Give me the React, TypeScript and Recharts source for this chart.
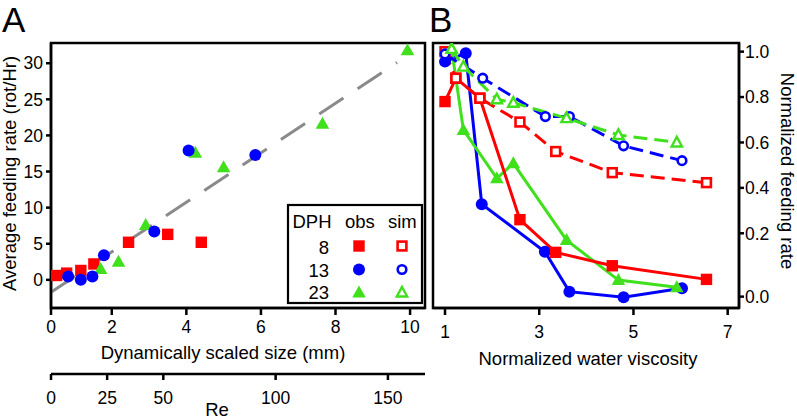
import React from 'react';
import { ComposedChart, Scatter, Line, XAxis, YAxis, ReferenceArea, ReferenceLine, Label } from 'recharts';

const FONT = '"Liberation Sans", Arial, Helvetica, sans-serif';
const RED = '#ff0000';
const BLUE = '#0000ff';
const GREEN = '#40e01c';
const GREY = '#8a8a8a';

// ---------- Panel A ----------
const sizeTicks = [0.37, 2, 4, 6, 8, 10];
const rateTicks = [0, 5, 10, 15, 20, 25, 30];
const reTicks = [0, 25, 50, 100, 150];

const size8 = [0.52, 0.79, 1.17, 1.52, 2.45, 3.5, 4.4];
const rate8 = [0.6, 0.93, 1.3, 2.2, 5.2, 6.3, 5.2];
const size13 = [0.83, 1.17, 1.48, 1.79, 3.14, 4.06, 5.85];
const rate13 = [0.46, 0.0, 0.46, 3.4, 6.7, 17.9, 17.3];
const size23 = [1.7, 2.18, 2.91, 4.24, 5.0, 7.65, 9.93];
const rate23 = [1.5, 2.5, 7.6, 17.6, 15.6, 21.6, 31.8];
const fitSize = [0.37, 9.65];
const fitRate = [-1.71, 30.1];

// ---------- Panel B ----------
const viscTicks = [1, 3, 5, 7];
const normTicks = [-0.079, 0.2, 0.4, 0.6, 0.8, 1.0];

const visc8 = [1.0, 1.23, 1.74, 2.59, 3.35, 4.55, 6.55];
const obs8 = [0.78, 0.883, 0.795, 0.26, 0.116, 0.057, -0.003];
const sim8 = [1.0, 0.883, 0.795, 0.69, 0.56, 0.467, 0.423];
const visc13obs = [1.0, 1.44, 1.78, 3.12, 3.64, 4.79, 6.03];
const obs13 = [0.956, 0.993, 0.328, 0.119, -0.057, -0.082, -0.042];
const visc13sim = [1.0, 1.8, 3.13, 3.64, 4.79, 6.03];
const sim13 = [0.99, 0.883, 0.714, 0.714, 0.585, 0.52];
const visc23 = [1.14, 1.39, 2.1, 2.45, 3.58, 4.68, 5.92];
const obs23 = [1.012, 0.655, 0.442, 0.508, 0.17, -0.006, -0.038];
const sim23 = [1.012, 0.934, 0.79, 0.775, 0.707, 0.633, 0.6];

const zip = (xs: number[], ys: number[]) => xs.map((x, i) => ({ x, y: ys[i] }));

type Kind = 'square' | 'circle' | 'triangle';

function Marker({ kind, color, cx, cy, open }: { kind: Kind; color: string; cx: number; cy: number; open?: boolean }) {
  if (cx == null || cy == null || isNaN(cx) || isNaN(cy)) return null;
  if (!open) {
    if (kind === 'square') return <rect x={cx - 5.7} y={cy - 5.7} width={11.4} height={11.4} fill={color} />;
    if (kind === 'circle') return <circle cx={cx} cy={cy} r={6} fill={color} />;
    return <polygon points={`${cx},${cy - 7} ${cx - 6.8},${cy + 5} ${cx + 6.8},${cy + 5}`} fill={color} />;
  }
  const sw = 2.6;
  if (kind === 'square') return <rect x={cx - 4.4} y={cy - 4.4} width={8.8} height={8.8} fill="#fff" stroke={color} strokeWidth={sw} />;
  if (kind === 'circle') return <circle cx={cx} cy={cy} r={4.3} fill="#fff" stroke={color} strokeWidth={sw} />;
  return <polygon points={`${cx},${cy - 5.6} ${cx - 5.2},${cy + 4} ${cx + 5.2},${cy + 4}`} fill="#fff" stroke={color} strokeWidth={2.4} />;
}

const scatterShape = (kind: Kind, color: string) => (p: any) => <Marker kind={kind} color={color} cx={p.cx} cy={p.cy} />;
const lineDot = (kind: Kind, color: string, open: boolean) => (p: any) => (
  <g key={`d-${kind}-${open ? 'o' : 'f'}-${p.index}`}>
    <Marker kind={kind} color={color} cx={p.cx} cy={p.cy} open={open} />
  </g>
);

const axisStyle = { stroke: '#000', strokeWidth: 2.5 };
const tickStyle = { fill: '#000', fontSize: 17.5, fontFamily: FONT };

function Title({ x, y, text, angle }: { x: number; y: number; text: string; angle?: number }) {
  return (
    <text
      x={x}
      y={y}
      textAnchor="middle"
      fontSize={18.5}
      fontFamily={FONT}
      fill="#000"
      transform={angle ? `rotate(${angle} ${x} ${y})` : undefined}
    >
      {text}
    </text>
  );
}

function PanelA() {
  return (
    <ComposedChart width={430} height={420} margin={{ top: 43, right: 5, bottom: 0, left: 0 }}>
      <XAxis
        xAxisId="a"
        type="number"
        dataKey="x"
        domain={[0.37, 10.4]}
        allowDataOverflow
        ticks={sizeTicks}
        interval={0}
        tickFormatter={(v: number) => (v === sizeTicks[0] ? '0' : String(v))}
        height={66}
        tickSize={7}
        tickMargin={6}
        axisLine={axisStyle}
        tickLine={axisStyle}
        tick={tickStyle}
      >
        <Label content={() => <Title x={223} y={359} text="Dynamically scaled size (mm)" />} />
      </XAxis>
      <XAxis
        xAxisId="z"
        type="number"
        dataKey="re"
        domain={[0, 166.5]}
        allowDataOverflow
        ticks={reTicks}
        interval={0}
        height={46}
        tickSize={6}
        tickMargin={12}
        axisLine={axisStyle}
        tickLine={axisStyle}
        tick={tickStyle}
      >
        <Label content={() => <Title x={217} y={416} text="Re" />} />
      </XAxis>
      <YAxis
        yAxisId="r"
        type="number"
        dataKey="y"
        domain={[-3.9, 32.8]}
        allowDataOverflow
        ticks={rateTicks}
        interval={0}
        width={51}
        tickSize={5}
        tickMargin={3}
        axisLine={axisStyle}
        tickLine={axisStyle}
        tick={tickStyle}
      >
        <Label content={() => <Title x={16} y={173.5} angle={-90} text="Average feeding rate (rot/Hr)" />} />
      </YAxis>
      <ReferenceArea xAxisId="a" yAxisId="r" x1={0.37} x2={10.4} y1={-3.9} y2={32.8} fill="none" fillOpacity={0} stroke="#000" strokeWidth={2.5} ifOverflow="visible" />
      <ReferenceLine
        xAxisId="a"
        yAxisId="r"
        segment={[{ x: fitSize[0], y: fitRate[0] }, { x: fitSize[1], y: fitRate[1] }]}
        stroke={GREY}
        strokeWidth={3}
        strokeDasharray="29 17"
        ifOverflow="visible"
      />
      <Scatter name="8 obs" xAxisId="a" yAxisId="r" data={zip(size8, rate8)} shape={scatterShape('square', RED)} isAnimationActive={false} />
      <Scatter name="23 obs" xAxisId="a" yAxisId="r" data={zip(size23, rate23)} shape={scatterShape('triangle', GREEN)} isAnimationActive={false} />
      <Scatter name="13 obs" xAxisId="a" yAxisId="r" data={zip(size13, rate13)} shape={scatterShape('circle', BLUE)} isAnimationActive={false} />
    </ComposedChart>
  );
}

function PanelB() {
  const solid = { strokeWidth: 3, isAnimationActive: false, dataKey: 'y', activeDot: false as any };
  return (
    <ComposedChart width={367} height={420} margin={{ top: 43, right: 0, bottom: 0, left: 3 }}>
      <XAxis
        type="number"
        dataKey="x"
        domain={[0.745, 7.24]}
        allowDataOverflow
        ticks={viscTicks}
        interval={0}
        height={112}
        tickSize={7}
        tickMargin={11}
        axisLine={axisStyle}
        tickLine={axisStyle}
        tick={tickStyle}
      >
        <Label content={() => <Title x={158} y={365} text="Normalized water viscosity" />} />
      </XAxis>
      <YAxis
        orientation="right"
        type="number"
        dataKey="y"
        domain={[-0.129, 1.038]}
        allowDataOverflow
        ticks={normTicks}
        interval={0}
        tickFormatter={(v: number) => (v < 0 ? '0.0' : v.toFixed(1))}
        width={58}
        tickSize={5}
        tickMargin={1}
        axisLine={axisStyle}
        tickLine={axisStyle}
        tick={tickStyle}
      >
        <Label content={() => <Title x={351} y={171} angle={90} text="Normalized feeding rate" />} />
      </YAxis>
      <ReferenceArea x1={0.745} x2={7.24} y1={-0.129} y2={1.038} fill="none" fillOpacity={0} stroke="#000" strokeWidth={2.5} ifOverflow="visible" />
      <Line {...solid} data={zip(visc13obs, obs13)} stroke={BLUE} dot={lineDot('circle', BLUE, false)} />
      <Line {...solid} data={zip(visc23, obs23)} stroke={GREEN} dot={lineDot('triangle', GREEN, false)} />
      <Line {...solid} data={zip(visc8, obs8)} stroke={RED} dot={lineDot('square', RED, false)} />
      <Line {...solid} data={zip(visc8, sim8)} stroke={RED} strokeDasharray="14 7" dot={lineDot('square', RED, true)} />
      <Line {...solid} data={zip(visc13sim, sim13)} stroke={BLUE} strokeDasharray="14 7" dot={lineDot('circle', BLUE, true)} />
      <Line {...solid} data={zip(visc23, sim23)} stroke={GREEN} strokeDasharray="14 7" dot={lineDot('triangle', GREEN, true)} />
    </ComposedChart>
  );
}

function Overlay() {
  const t = { fontSize: 18.5, fontFamily: FONT, fill: '#000' };
  return (
    <svg width={797} height={420} style={{ position: 'absolute', left: 0, top: 0, pointerEvents: 'none' }}>
      <text x={2} y={32} fontSize={35} fontFamily={FONT} fill="#000">A</text>
      <text x={429} y={32} fontSize={35} fontFamily={FONT} fill="#000">B</text>
      <rect x={288} y={205} width={134} height={98} fill="#fff" stroke="#000" strokeWidth={2.2} />
      <text x={292.5} y={228.3} {...t}>DPH</text>
      <text x={345} y={228.3} {...t}>obs</text>
      <text x={388} y={228.3} {...t}>sim</text>
      <text x={329} y={254} textAnchor="end" {...t}>8</text>
      <text x={329} y={276.5} textAnchor="end" {...t}>13</text>
      <text x={329} y={298.5} textAnchor="end" {...t}>23</text>
      <Marker kind="square" color={RED} cx={359} cy={246} />
      <Marker kind="circle" color={BLUE} cx={359} cy={269.5} />
      <Marker kind="triangle" color={GREEN} cx={359} cy={292.5} />
      <Marker kind="square" color={RED} cx={402} cy={246} open />
      <Marker kind="circle" color={BLUE} cx={402} cy={269.5} open />
      <Marker kind="triangle" color={GREEN} cx={402} cy={292.5} open />
    </svg>
  );
}

export default function App() {
  return (
    <div style={{ position: 'absolute', left: 0, top: 0, width: 797, height: 420, background: '#fff', fontFamily: FONT, overflow: 'hidden' }}>
      <div style={{ position: 'absolute', left: 0, top: 0 }}>
        <PanelA />
      </div>
      <div style={{ position: 'absolute', left: 430, top: 0 }}>
        <PanelB />
      </div>
      <Overlay />
    </div>
  );
}
